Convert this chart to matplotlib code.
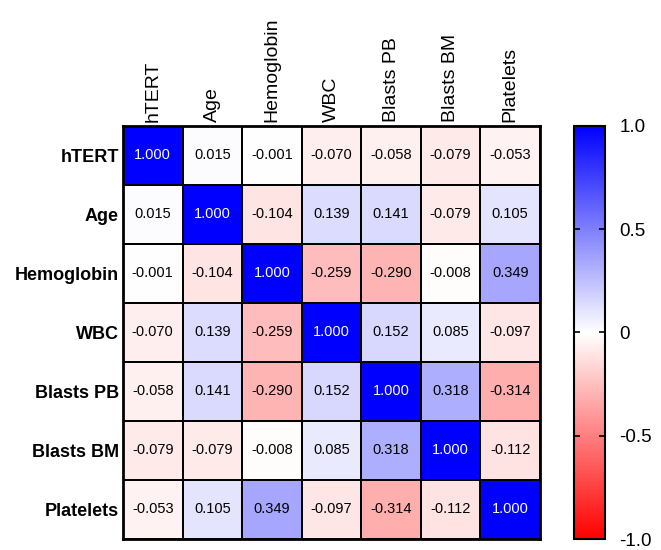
import matplotlib.pyplot as plt
import numpy as np
from matplotlib.colors import LinearSegmentedColormap

plt.rcParams['font.family'] = ['Liberation Sans', 'DejaVu Sans']

labels = ["hTERT", "Age", "Hemoglobin", "WBC", "Blasts PB", "Blasts BM", "Platelets"]

corr = np.array([
    [1.000, 0.015, -0.001, -0.070, -0.058, -0.079, -0.053],
    [0.015, 1.000, -0.104, 0.139, 0.141, -0.079, 0.105],
    [-0.001, -0.104, 1.000, -0.259, -0.290, -0.008, 0.349],
    [-0.070, 0.139, -0.259, 1.000, 0.152, 0.085, -0.097],
    [-0.058, 0.141, -0.290, 0.152, 1.000, 0.318, -0.314],
    [-0.079, -0.079, -0.008, 0.085, 0.318, 1.000, -0.112],
    [-0.053, 0.105, 0.349, -0.097, -0.314, -0.112, 1.000],
])

cbar_ticks = [-1.0, -0.5, 0, 0.5, 1.0]
cbar_labels = ["-1.0", "-0.5", "0", "0.5", "1.0"]

cmap = LinearSegmentedColormap.from_list("rwb", ["#ff0000", "#ffffff", "#0000ff"])

fig = plt.figure(figsize=(6.61, 5.5), dpi=100)
ax = fig.add_axes([0.186, 0.02, 0.631, 0.751])
cax = fig.add_axes([0.868, 0.02, 0.048, 0.751])

n = len(labels)
im = ax.pcolormesh(corr, cmap=cmap, vmin=-1, vmax=1, edgecolor="black", linewidth=1.2)
ax.set_xlim(0, n)
ax.set_ylim(n, 0)

for i in range(n):
    for j in range(n):
        v = corr[i, j]
        col = "white" if v > 0.7 else "black"
        ax.text(j + 0.5, i + 0.5, f"{v:.3f}", ha="center", va="center",
                fontsize=10.5, color=col)

ax.set_xticks(np.arange(n) + 0.5)
ax.set_xticklabels(labels, rotation=90, fontsize=14)
ax.xaxis.tick_top()
ax.set_yticks(np.arange(n) + 0.5)
ax.set_yticklabels(labels, fontsize=13, fontweight="bold")
ax.tick_params(length=0, pad=3)
for s in ax.spines.values():
    s.set_linewidth(2)

cb = fig.colorbar(im, cax=cax, ticks=cbar_ticks)
cb.ax.set_yticklabels(cbar_labels)
cb.ax.tick_params(direction="in", length=4, width=1.2, left=True, right=True,
                  labelsize=13.5, pad=10)
cb.outline.set_linewidth(1.5)

fig.savefig("out.png", dpi=100)
